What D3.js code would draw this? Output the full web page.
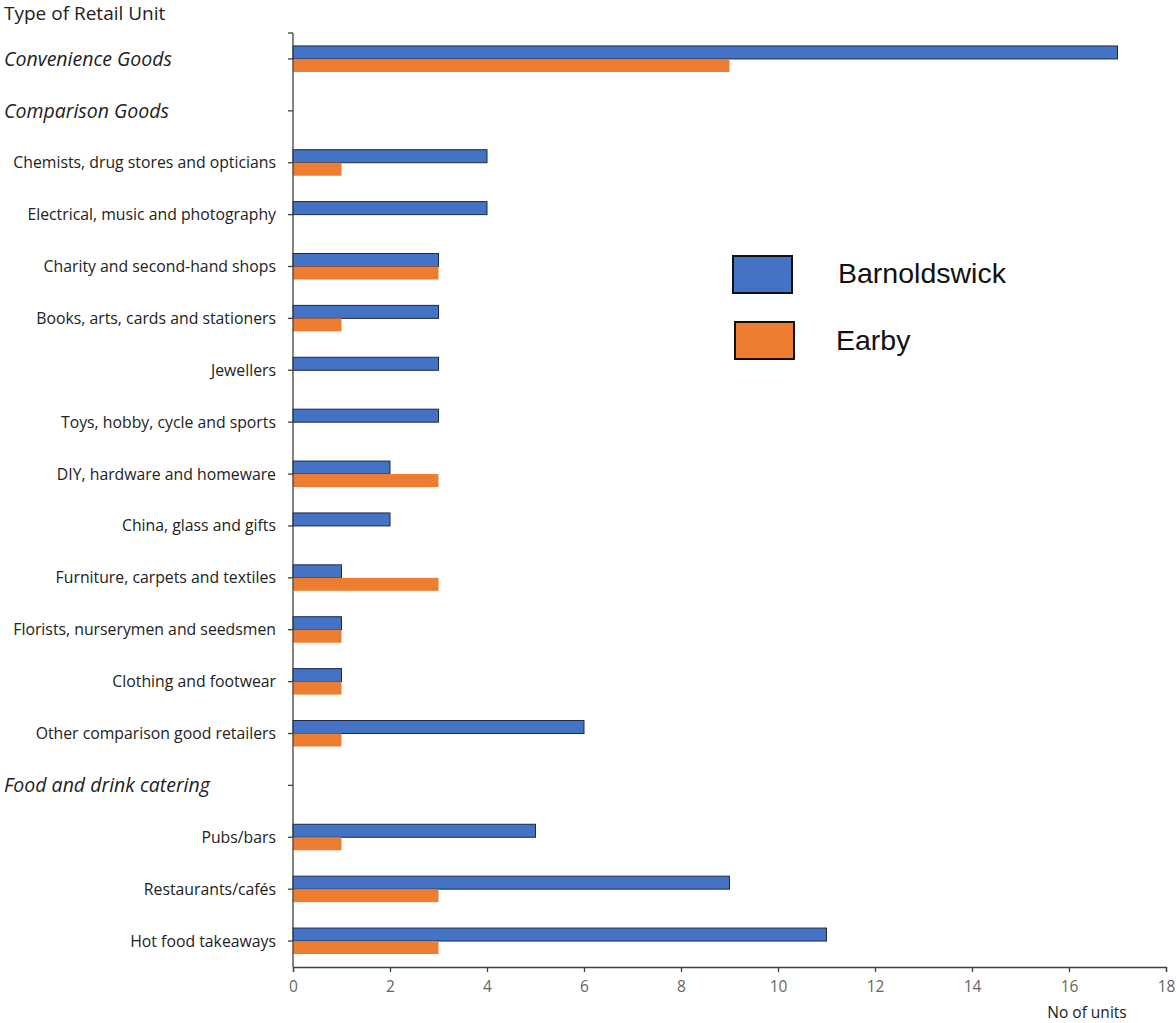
<!DOCTYPE html>
<html>
<head>
<meta charset="utf-8">
<script src="https://cdn.jsdelivr.net/npm/d3@7"></script>
<style>
  html, body { margin: 0; padding: 0; background: #fff; }
  svg { display: block; }
</style>
</head>
<body>
<svg id="chart" width="1176" height="1023"></svg>
<script>
// Retail units by type, two towns
const categories = [
  "Convenience Goods",
  "Comparison Goods",
  "Chemists, drug stores and opticians",
  "Electrical, music and photography",
  "Charity and second-hand shops",
  "Books, arts, cards and stationers",
  "Jewellers",
  "Toys, hobby, cycle and sports",
  "DIY, hardware and homeware",
  "China, glass and gifts",
  "Furniture, carpets and textiles",
  "Florists, nurserymen and seedsmen",
  "Clothing and footwear",
  "Other comparison good retailers",
  "Food and drink catering",
  "Pubs/bars",
  "Restaurants/cafés",
  "Hot food takeaways"
];
// Group heading rows (drawn italic, left-aligned)
const headings = ["Convenience Goods", "Comparison Goods", "Food and drink catering"];

const seriesNames = ["Barnoldswick", "Earby"];
const barnoldswick = [17, null, 4, 4, 3, 3, 3, 3, 2, 2, 1, 1, 1, 6, null, 5, 9, 11];
const earby        = [9,  null, 1, 0, 3, 1, 0, 0, 3, 0, 3, 1, 1, 1, null, 1, 3, 3];
const xTicks = [0, 2, 4, 6, 8, 10, 12, 14, 16, 18];

const colors = { Barnoldswick: "#4472C4", Earby: "#ED7D31" };

const svg = d3.select("#chart");
const plotLeft = 293, plotRight = 1166, plotTop = 33, plotBottom = 967;

const x = d3.scaleLinear().domain([0, 18]).range([plotLeft, plotRight]);
const y = d3.scaleBand().domain(categories).range([plotTop, plotBottom]).padding(0);
const barH = 13;

// Bars: Barnoldswick above the category line, Earby below
const rows = categories.map((c, i) => ({ c, b: barnoldswick[i], e: earby[i] }));
const yc = c => y(c) + y.bandwidth() / 2;

svg.append("g").selectAll("rect")
  .data(rows.filter(d => d.b))
  .join("rect")
  .attr("x", x(0))
  .attr("y", d => yc(d.c) - barH)
  .attr("width", d => x(d.b) - x(0))
  .attr("height", barH)
  .attr("fill", colors.Barnoldswick)
  .attr("stroke", "#1c2a48")
  .attr("stroke-width", 1);

svg.append("g").selectAll("rect")
  .data(rows.filter(d => d.e))
  .join("rect")
  .attr("x", x(0))
  .attr("y", d => yc(d.c))
  .attr("width", d => x(d.e) - x(0))
  .attr("height", barH)
  .attr("fill", colors.Earby);

// Y axis line with ticks at category centres
const yAxis = svg.append("g");
yAxis.append("line")
  .attr("x1", plotLeft).attr("x2", plotLeft)
  .attr("y1", plotTop).attr("y2", plotBottom)
  .attr("stroke", "#404040").attr("stroke-width", 1.3);
yAxis.append("line")
  .attr("x1", plotLeft - 5).attr("x2", plotLeft)
  .attr("y1", plotTop).attr("y2", plotTop)
  .attr("stroke", "#404040").attr("stroke-width", 1.3);
yAxis.selectAll("line.t")
  .data(categories)
  .join("line")
  .attr("class", "t")
  .attr("x1", plotLeft - 5).attr("x2", plotLeft)
  .attr("y1", d => yc(d)).attr("y2", d => yc(d))
  .attr("stroke", "#404040").attr("stroke-width", 1.3);

// Category labels
svg.append("g").selectAll("text")
  .data(categories)
  .join("text")
  .attr("x", d => headings.includes(d) ? 4 : 276)
  .attr("y", d => yc(d))
  .attr("dy", "0.35em")
  .attr("text-anchor", d => headings.includes(d) ? "start" : "end")
  .attr("font-family", "'Open Sans', sans-serif")
  .attr("font-size", d => headings.includes(d) ? 19.5 : 15.8)
  .attr("font-style", d => headings.includes(d) ? "italic" : "normal")
  .attr("fill", "#222")
  .text(d => d);

// X axis
const xAxis = d3.axisBottom(x).tickValues(xTicks).tickSize(5).tickPadding(9).tickFormat(d3.format("d"));
const gx = svg.append("g").attr("transform", `translate(0,${plotBottom})`).call(xAxis);
gx.select(".domain").attr("stroke", "#404040").attr("stroke-width", 1.3);
gx.selectAll(".tick line").attr("stroke", "#404040").attr("stroke-width", 1.3);
gx.selectAll(".tick text")
  .attr("font-family", "'Open Sans', sans-serif")
  .attr("font-size", 15.5)
  .attr("fill", "#666");

// Axis titles
svg.append("text")
  .attr("x", 4).attr("y", 20)
  .attr("font-family", "'Open Sans', sans-serif")
  .attr("font-size", 19)
  .attr("fill", "#222")
  .text("Type of Retail Unit");
svg.append("text")
  .attr("x", 1087).attr("y", 1018)
  .attr("text-anchor", "middle")
  .attr("font-family", "'Open Sans', sans-serif")
  .attr("font-size", 15.5)
  .attr("fill", "#222")
  .text("No of units");

// Legend
const legend = svg.append("g");
const legendItems = [
  { name: seriesNames[0], bx: 733, by: 256, tx: 838, ty: 273 },
  { name: seriesNames[1], bx: 735, by: 322, tx: 836, ty: 340 }
];
legendItems.forEach(it => {
  legend.append("rect")
    .attr("x", it.bx).attr("y", it.by)
    .attr("width", 59).attr("height", 37)
    .attr("fill", colors[it.name])
    .attr("stroke", "#111").attr("stroke-width", 2);
  legend.append("text")
    .attr("x", it.tx).attr("y", it.ty)
    .attr("dy", "0.35em")
    .attr("font-family", "'Liberation Sans', Arial, sans-serif")
    .attr("font-size", 28.5)
    .attr("fill", "#111")
    .text(it.name);
});
</script>
</body>
</html>
